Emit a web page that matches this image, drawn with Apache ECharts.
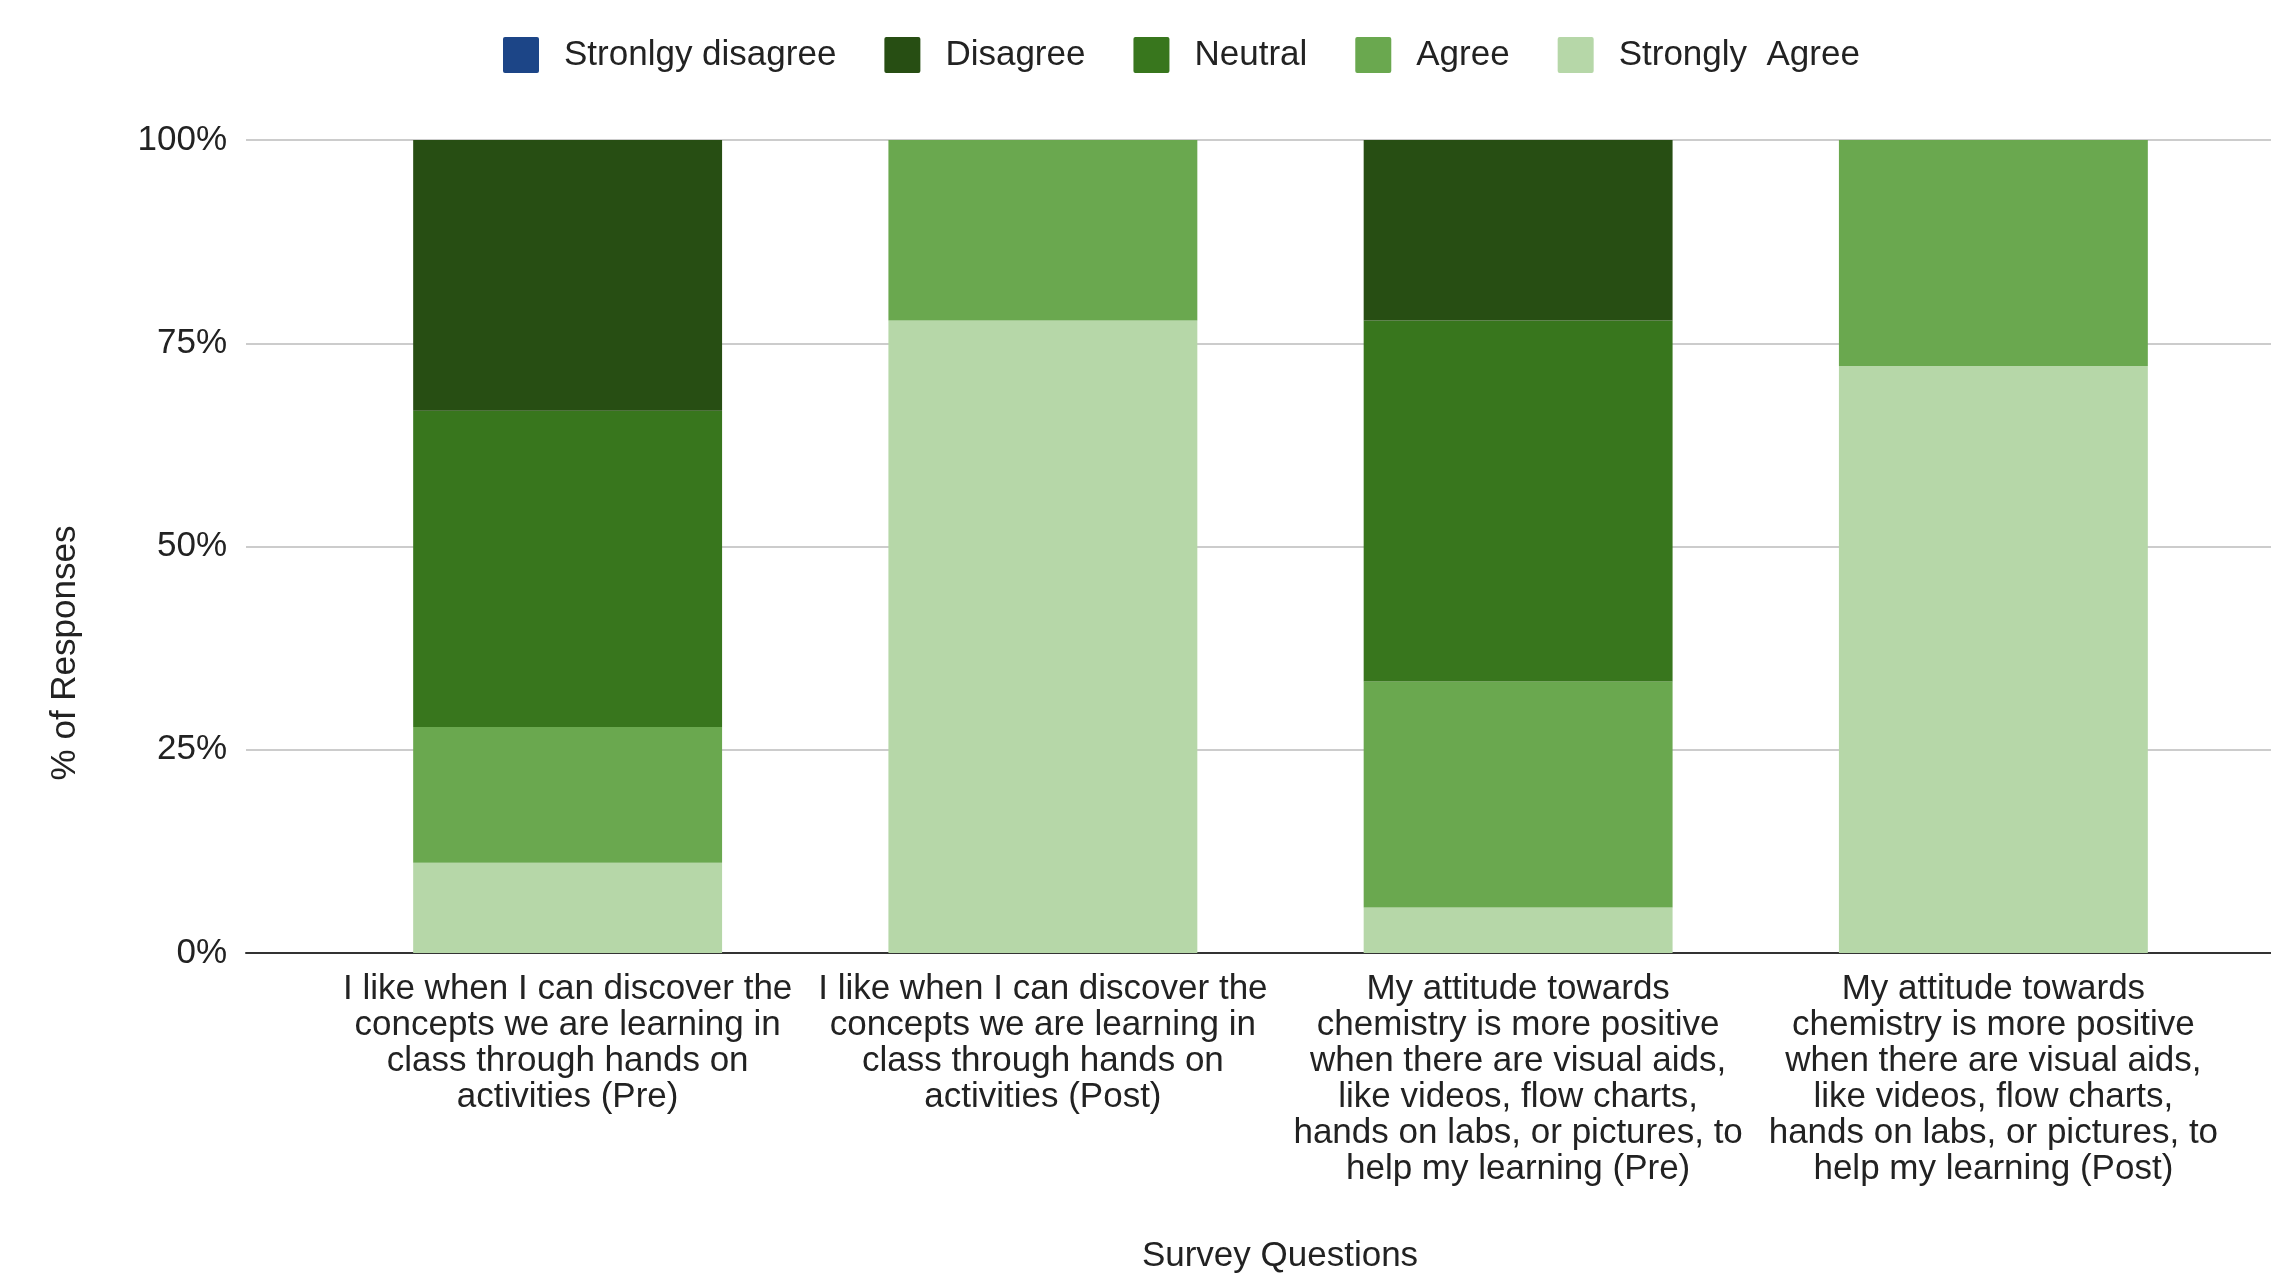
<!DOCTYPE html>
<html><head><meta charset="utf-8">
<script src="https://cdn.jsdelivr.net/npm/echarts@6/dist/echarts.min.js"></script>
<style>html,body{margin:0;padding:0;background:#fff}#c{width:2271px;height:1287px}</style>
</head><body><div id="c"></div>
<script>
const categories = [
  'I like when I can discover the\nconcepts we are learning in\nclass through hands on\nactivities (Pre)',
  'I like when I can discover the\nconcepts we are learning in\nclass through hands on\nactivities (Post)',
  'My attitude towards\nchemistry is more positive\nwhen there are visual aids,\nlike videos, flow charts,\nhands on labs, or pictures, to\nhelp my learning (Pre)',
  'My attitude towards\nchemistry is more positive\nwhen there are visual aids,\nlike videos, flow charts,\nhands on labs, or pictures, to\nhelp my learning (Post)'
];
const seriesNames = ['Stronlgy disagree', 'Disagree', 'Neutral', 'Agree', 'Strongly  Agree'];
const stronglyDisagree = [0, 0, 0, 0];
const disagree = [33.3, 0, 22.2, 0];
const neutral = [38.9, 0, 44.4, 0];
const agree = [16.7, 22.2, 27.8, 27.8];
const stronglyAgree = [11.1, 77.8, 5.6, 72.2];
const yTicks = [0, 25, 50, 75, 100];
const colors = ['#1c4587', '#274e13', '#38761d', '#6aa84f', '#b6d7a8'];

const FF = '"Liberation Sans", Arial, sans-serif';
const values = [stronglyDisagree, disagree, neutral, agree, stronglyAgree];
const series = [];
for (let i = values.length - 1; i >= 0; i--) {
  series.push({
    name: seriesNames[i], type: 'bar', stack: 'total',
    xAxisIndex: 1, yAxisIndex: 1, barWidth: '65%',
    itemStyle: { color: colors[i] },
    emphasis: { disabled: true },
    data: values[i]
  });
}

const chart = echarts.init(document.getElementById('c'), null, { renderer: 'canvas' });
chart.setOption({
  animation: false,
  color: colors,
  textStyle: { fontFamily: FF },
  legend: {
    data: seriesNames, top: 32, left: 498,
    itemWidth: 36, itemHeight: 36, itemGap: 48,
    icon: 'path://M2,0 L34,0 Q36,0 36,2 L36,34 Q36,36 34,36 L2,36 Q0,36 0,34 L0,2 Q0,0 2,0 Z',
    textStyle: { fontSize: 35, color: '#222', fontFamily: FF, padding: [0, 0, 0, 20] }
  },
  grid: [
    { left: 246, right: 0, top: 140, bottom: 334 },
    { left: 330, right: 40, top: 140, bottom: 334 }
  ],
  xAxis: [
    { gridIndex: 0, type: 'value', min: 0, max: 1,
      axisLine: { show: true, lineStyle: { color: '#333', width: 2 } },
      axisTick: { show: false }, axisLabel: { show: false }, splitLine: { show: false } },
    { gridIndex: 1, type: 'category', data: categories,
      axisLine: { show: false }, axisTick: { show: false },
      axisLabel: { interval: 0, margin: 18, fontSize: 35, lineHeight: 36, color: '#222', fontFamily: FF } }
  ],
  yAxis: [
    { gridIndex: 0, type: 'value', min: yTicks[0], max: yTicks[yTicks.length - 1], interval: 25,
      axisLabel: { formatter: '{value}%', margin: 19, fontSize: 35, color: '#222', fontFamily: FF },
      splitLine: { lineStyle: { color: '#ccc', width: 2 } },
      axisLine: { show: false }, axisTick: { show: false } },
    { gridIndex: 1, type: 'value', min: 0, max: 100, show: false }
  ],
  graphic: [
    { type: 'text', x: 65, y: 653, rotation: Math.PI / 2,
      style: { text: '% of Responses', font: '35px ' + FF, fill: '#222', align: 'center', verticalAlign: 'middle' } },
    { type: 'text', x: 1280, y: 1256,
      style: { text: 'Survey Questions', font: '35px ' + FF, fill: '#222', align: 'center', verticalAlign: 'middle' } }
  ],
  series: series
});
</script></body></html>
